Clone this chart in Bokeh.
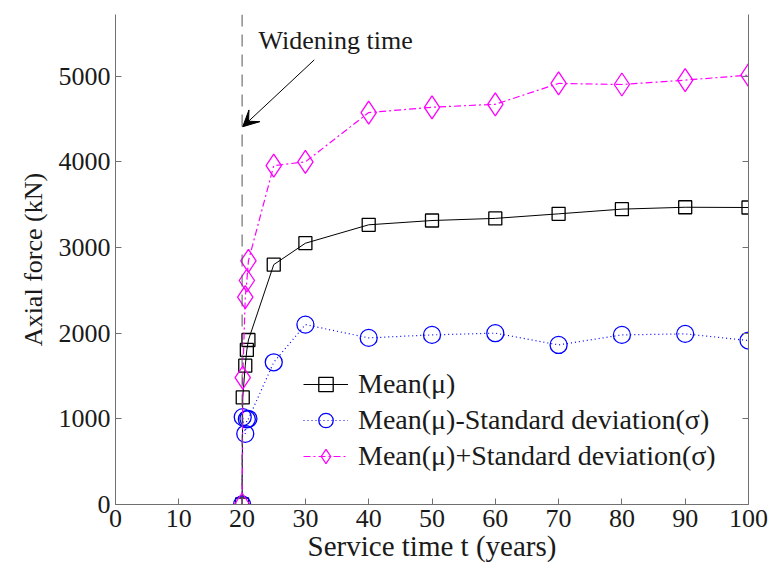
from bokeh.plotting import figure
from bokeh.models import (LinearAxis, Range1d, Span, Arrow, VeeHead, Label,
                          Legend, LegendItem, FixedTicker)
from bokeh.embed import file_html
from bokeh.resources import INLINE

# Service time (years) and axial force (kN)
years = [20, 20.1, 20.5, 20.75, 21, 25, 30, 40, 50, 60, 70, 80, 90, 100]
mean_force = [0, 1250, 1620, 1805, 1920, 2800, 3050, 3265, 3315, 3340, 3393, 3448, 3470, 3467]
mean_minus_std = [0, 1020, 825, 995, 1000, 1660, 2100, 1945, 1980, 2000, 1863, 1980, 1992, 1914]
mean_plus_std = [0, 1480, 2420, 2615, 2845, 3956, 4000, 4575, 4637, 4672, 4915, 4903, 4954, 5012]

widening_year = 20
x_ticks = list(range(0, 101, 10))
y_ticks = list(range(0, 5001, 1000))

FONT = "Liberation Serif"
TXT = "#1a1a1a"
AX = "#707070"

p = figure(width=774, height=570, output_backend="svg", toolbar_location=None,
           x_range=Range1d(0, 100), y_range=Range1d(0, 5720),
           min_border_left=115, min_border_right=26, min_border_top=14,
           min_border_bottom=66, x_axis_label="Service time t (years)",
           y_axis_label="Axial force (kN)")
p.outline_line_color = None
p.xgrid.visible = False
p.ygrid.visible = False
p.background_fill_color = "white"
p.border_fill_color = "white"

for ax in (p.xaxis[0], p.yaxis[0]):
    ax.axis_line_color = AX
    ax.major_tick_line_color = AX
    ax.major_tick_in = 6
    ax.major_tick_out = 0
    ax.minor_tick_line_color = None
    ax.major_label_text_font = FONT
    ax.major_label_text_font_size = "26px"
    ax.major_label_text_color = TXT
    ax.axis_label_text_font = FONT
    ax.axis_label_text_font_style = "normal"
    ax.axis_label_text_color = TXT

p.xaxis[0].ticker = FixedTicker(ticks=x_ticks)
p.yaxis[0].ticker = FixedTicker(ticks=y_ticks)
p.xaxis[0].major_label_standoff = 5
p.xaxis[0].axis_label_standoff = 0
p.xaxis[0].axis_label_text_font_size = "29px"
p.yaxis[0].major_label_standoff = 5
p.yaxis[0].axis_label_standoff = 8
p.yaxis[0].axis_label_text_font_size = "26px"

# right-hand box edge: inward ticks only
right = LinearAxis(ticker=FixedTicker(ticks=y_ticks), axis_line_color=AX,
                   major_tick_line_color=AX, major_tick_in=6, major_tick_out=0,
                   minor_tick_line_color=None, major_label_standoff=0,
                   major_label_overrides={t: "" for t in y_ticks})
p.add_layout(right, "right")

# series
l1 = p.line(years, mean_force, line_color="black", line_width=1)
s1 = p.scatter(years, mean_force, marker="square", size=13, fill_color=None,
               line_color="black", line_width=1.3)
l2 = p.line(years, mean_minus_std, line_color="blue", line_width=1.2, line_dash="1 3")
s2 = p.scatter(years, mean_minus_std, marker="circle", size=17, fill_color=None,
               line_color="blue", line_width=1.3)
l3 = p.line(years, mean_plus_std, line_color="magenta", line_width=1.2, line_dash="7 3 2 3")
s3 = p.scatter(years, mean_plus_std, marker="diamond", size=23, fill_color=None,
               line_color="magenta", line_width=1.3)

# widening marker line, arrow and caption
p.add_layout(Span(location=widening_year, dimension="height", line_color="#555555",
                  line_width=1, line_dash="12 8"))
p.add_layout(Arrow(end=VeeHead(size=16, fill_color="black", line_color="black"),
                   x_start=31.4, y_start=5190, x_end=widening_year + 0.1, y_end=4410,
                   line_color="black", line_width=1))
p.add_layout(Label(x=22.6, y=5420, text="Widening time", text_font=FONT,
                   text_font_size="26px", text_color=TXT, text_baseline="middle"))

legend = Legend(items=[
    LegendItem(label="Mean(μ)", renderers=[l1, s1]),
    LegendItem(label="Mean(μ)-Standard deviation(σ)", renderers=[l2, s2]),
    LegendItem(label="Mean(μ)+Standard deviation(σ)", renderers=[l3, s3]),
], location=(188, 30), glyph_width=45, glyph_height=36, spacing=0, padding=0,
    margin=0, label_standoff=10, label_text_font=FONT, label_text_font_size="28px",
    label_text_color=TXT, border_line_alpha=0, background_fill_alpha=0)
p.add_layout(legend, "center")

open("out.html", "w").write(file_html(p, INLINE))
